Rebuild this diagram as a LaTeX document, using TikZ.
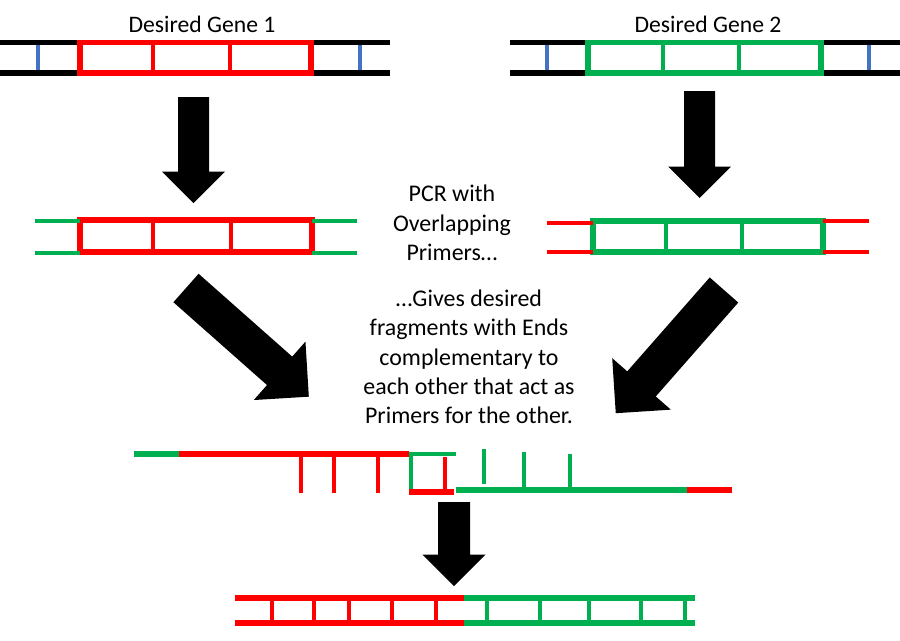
\documentclass[tikz,border=0pt]{standalone}
\usepackage{fontspec}
\setmainfont{Carlito}
\definecolor{gnred}{rgb}{1.,0.,0.}
\definecolor{gngreen}{RGB}{0,176,80}
\definecolor{gnblue}{RGB}{68,114,196}
\tikzset{
  strand/.style={line width=4.9pt},
  rung/.style={line width=3.9pt},
  title/.style={font=\fontsize{20.2}{24}\selectfont},
  note/.style={font=\fontsize{20.4}{25}\selectfont,align=center}
}
% block arrow: x, y, angle, length, shaft width, head width
\newcommand{\fatarrow}[6]{\fill[black,shift={(#1,#2)},rotate=#3] (0,-#5/2) -- ({#4-#6/2},-#5/2) -- ({#4-#6/2},-#6/2) -- (#4,0) -- ({#4-#6/2},#6/2) -- ({#4-#6/2},#5/2) -- (0,#5/2) -- cycle;}

\begin{document}
\begin{tikzpicture}[x=0.03cm,y=-0.03cm,line join=miter]
\useasboundingbox[fill=white] (0,0) rectangle (900,640);

% gene 1 in its plasmid
\draw[rung,gnblue] (38,42.5) -- (38,73);
\draw[rung,gnblue] (360,42.5) -- (360,73);
\draw[strand] (0,42.5) -- (80,42.5);
\draw[strand] (0,73) -- (80,73);
\draw[strand] (311,42.5) -- (390,42.5);
\draw[strand] (311,73) -- (390,73);
\draw[rung,gnred] (153,42.5) -- (153,73);
\draw[rung,gnred] (230,42.5) -- (230,73);
\draw[strand,gnred] (80,42.5) rectangle (311,73);
\node[title] (gene1) at (202,24) {Desired Gene 1};

% gene 2 in its plasmid
\draw[rung,gnblue] (547,42.5) -- (547,73);
\draw[rung,gnblue] (869,42.5) -- (869,73);
\draw[strand] (510,42.5) -- (588,42.5);
\draw[strand] (510,73) -- (588,73);
\draw[strand] (821,42.5) -- (900,42.5);
\draw[strand] (821,73) -- (900,73);
\draw[rung,gngreen] (663,42.5) -- (663,73);
\draw[rung,gngreen] (739,42.5) -- (739,73);
\draw[strand,gngreen] (588,42.5) rectangle (821,73);
\node[title] (gene2) at (708,24) {Desired Gene 2};

% arrows
\fatarrow{193.5}{97}{-90}{106}{31}{63}
\fatarrow{699.5}{91}{-90}{107}{31}{63}
\fatarrow{186}{288}{-41.5}{164}{38}{78}
\fatarrow{724}{290}{-131.3}{164}{38}{78}
\fatarrow{454}{502}{-90}{84}{32}{63}

% PCR products
\draw[rung,gnred] (153,220) -- (153,252);
\draw[rung,gnred] (231,220) -- (231,252);
\draw[strand,gnred] (80,220) rectangle (312,252);
\draw[rung,gngreen] (35,221) -- (80,221);
\draw[rung,gngreen] (35,253) -- (80,253);
\draw[rung,gngreen] (312,221) -- (357,221);
\draw[rung,gngreen] (312,253) -- (357,253);

\draw[rung,gngreen] (666,221) -- (666,252);
\draw[rung,gngreen] (742,221) -- (742,252);
\draw[strand,gngreen] (593,221) rectangle (823,252);
\draw[rung,gnred] (547,223) -- (593,223);
\draw[rung,gnred] (547,252) -- (593,252);
\draw[rung,gnred] (823,221) -- (869,221);
\draw[rung,gnred] (823,252) -- (869,252);

\node[note] (pcr) at (452,223) {PCR with\\Overlapping\\Primers…};
\node[note] (gives) at (469,357) {…Gives desired\\fragments with Ends\\complementary to\\each other that act as\\Primers for the other.};

% annealed single strands
\draw[strand,gngreen] (134,454) -- (179,454);
\draw[strand,gnred] (179,454) -- (409,454);
\foreach \x in {301,334,378}
  \draw[rung,gnred] (\x,454) -- (\x,493);
\draw[rung,gngreen] (411,489) -- (411,454) -- (456,454);
\draw[rung,gnred] (445,457) -- (445,492);
\draw[strand,gnred] (409,492) -- (454,492);
\draw[strand,gngreen] (456,490) -- (687,490);
\draw[strand,gnred] (687,490) -- (732,490);
\draw[rung,gngreen] (484,449) -- (484,484);
\draw[rung,gngreen] (524,452) -- (524,490);
\draw[rung,gngreen] (570,454) -- (570,490);

% fused gene
\foreach \x in {272,314,349,392,436}
  \draw[rung,gnred] (\x,598) -- (\x,623);
\foreach \x in {487,540,589,641,685}
  \draw[rung,gngreen] (\x,598) -- (\x,623);
\draw[strand,gnred] (235,598) -- (464,598);
\draw[strand,gnred] (235,623) -- (464,623);
\draw[strand,gngreen] (464,598) -- (695,598);
\draw[strand,gngreen] (464,623) -- (695,623);
\end{tikzpicture}
\end{document}
